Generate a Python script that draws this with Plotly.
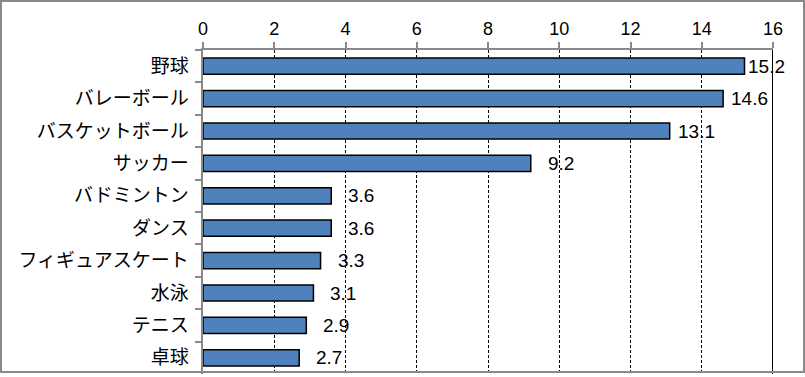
import plotly.graph_objects as go

categories = ["野球", "バレーボール", "バスケットボール", "サッカー", "バドミントン",
              "ダンス", "フィギュアスケート", "水泳", "テニス", "卓球"]
values = [15.2, 14.6, 13.1, 9.2, 3.6, 3.6, 3.3, 3.1, 2.9, 2.7]
tick_vals = [0, 2, 4, 6, 8, 10, 12, 14, 16]

W, H = 805, 377
L, R, T, B = 203, 32, 50, 3
pw, ph = W - L - R, H - T - B

fig = go.Figure(go.Bar(
    x=values, y=categories, orientation="h",
    marker=dict(color="#4F81BD", line=dict(color="black", width=1.5)),
    width=0.5, hoverinfo="skip",
))

annotations = []
for c, v in zip(categories, values):
    annotations.append(dict(
        x=v, y=c, xref="x", yref="y", text=f"{v:.1f}", showarrow=False,
        xanchor="left", yanchor="middle",
        xshift=15 if v < 10 else (6 if v < 15 else 1),
        font=dict(family="Liberation Sans, Arial", size=19, color="black"),
    ))

fig.update_layout(
    width=W, height=H,
    margin=dict(l=L, r=R, t=T, b=B),
    plot_bgcolor="white", paper_bgcolor="white",
    showlegend=False,
    annotations=annotations,
    xaxis=dict(side="top", range=[0, 16], tickvals=tick_vals,
               showgrid=True, gridcolor="black", griddash="3px,2px", gridwidth=1,
               showline=True, linecolor="#898989", linewidth=2,
               ticks="outside", ticklen=6, tickcolor="#898989", tickwidth=2,
               tickfont=dict(family="Liberation Sans, Arial", size=18, color="black"),
               zeroline=False, fixedrange=True),
    yaxis=dict(autorange="reversed", showline=True, linecolor="#898989", linewidth=2,
               ticks="outside", ticklen=6, tickcolor="#898989", tickwidth=2,
               tickson="boundaries", showgrid=False,
               tickfont=dict(family="Noto Sans CJK JP", size=19, color="black"),
               ticksuffix="  ", fixedrange=True),
    shapes=[
        dict(type="line", xref="x", yref="paper", x0=16, x1=16, y0=0, y1=1,
             line=dict(color="black", width=2)),
        dict(type="rect", xref="paper", yref="paper",
             x0=(1 - L) / pw, x1=(W - 1 - L) / pw,
             y0=(B - 1) / ph, y1=(H - 1 - B) / ph,
             line=dict(color="#898989", width=2)),
    ],
)

fig.write_html("out.html", config={"displayModeBar": False},
               post_script="document.body.style.margin='0';document.body.style.overflow='hidden';")
